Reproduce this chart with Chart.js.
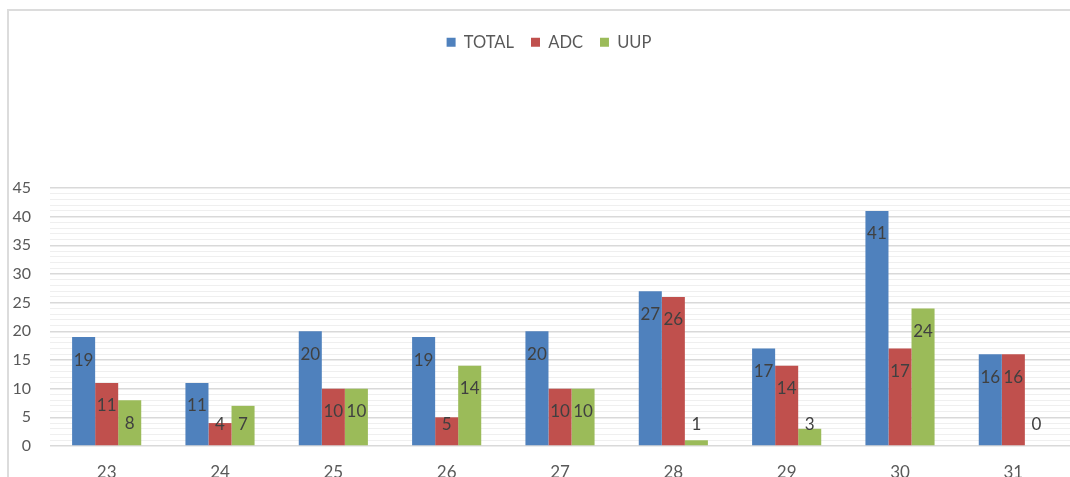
<!DOCTYPE html>
<html>
<head>
<meta charset="utf-8">
<script src="https://cdn.jsdelivr.net/npm/chart.js@4"></script>
<style>
  html, body { margin: 0; padding: 0; background: #fff; overflow: hidden; }
  #wrap { width: 1070px; height: 500px; }
</style>
</head>
<body>
<div id="wrap"><canvas id="c" width="1070" height="500"></canvas></div>
<script>
// ── data ─────────────────────────────────────────────
const days  = ['23', '24', '25', '26', '27', '28', '29', '30', '31'];
const total = [19, 11, 20, 19, 20, 27, 17, 41, 16];
const adc   = [11, 4, 10, 5, 10, 26, 14, 17, 16];
const uup   = [8, 7, 10, 14, 10, 1, 3, 24, 0];

const COL = { blue: '#4F81BD', red: '#C0504D', green: '#9BBB59', text: '#595959' };
const FONT = 'Lato, "Open Sans", sans-serif';

// frame lines round the chart (left + top only are visible)
const frame = {
  id: 'frame',
  beforeDraw(chart) {
    const { ctx } = chart;
    ctx.save();
    ctx.strokeStyle = '#dcdcdc';
    ctx.lineWidth = 2;
    ctx.beginPath();
    ctx.moveTo(8, 500);
    ctx.lineTo(8, 10);
    ctx.lineTo(1070, 10);
    ctx.stroke();
    ctx.restore();
  },
};

// value labels, inside end of each bar; small bars push label up
const valueLabels = {
  id: 'valueLabels',
  afterDatasetsDraw(chart) {
    const { ctx } = chart;
    ctx.save();
    ctx.font = '17px ' + FONT;
    ctx.fillStyle = '#404040';
    ctx.textAlign = 'center';
    ctx.textBaseline = 'middle';
    chart.data.datasets.forEach((ds, i) => {
      chart.getDatasetMeta(i).data.forEach((el, j) => {
        const y = Math.min(el.y + 23, el.base - 21);
        ctx.fillText(String(ds.data[j]), el.x, y);
      });
    });
    ctx.restore();
  },
};

// push the plot area down under the legend, nudge legend to the right
const legendGap = {
  id: 'legendGap',
  beforeInit(chart) {
    const fit = chart.legend.fit;
    chart.legend.fit = function () {
      fit.bind(chart.legend)();
      this.height = 171;
    };
  },
  afterLayout(chart) {
    chart.legend.left += 10;
    chart.legend.right += 10;
  },
};

new Chart(document.getElementById('c'), {
  type: 'bar',
  data: {
    labels: days,
    datasets: [
      { label: 'TOTAL', data: total, backgroundColor: COL.blue },
      { label: 'ADC',   data: adc,   backgroundColor: COL.red },
      { label: 'UUP',   data: uup,   backgroundColor: COL.green },
    ],
  },
  options: {
    responsive: false,
    animation: false,
    datasets: { bar: { categoryPercentage: 0.61, barPercentage: 1 } },
    layout: { padding: { top: 17, left: 8, right: 0, bottom: 0 } },
    scales: {
      x: {
        grid: { display: false, drawTicks: false },
        border: { display: false },
        ticks: { color: COL.text, font: { family: FONT, size: 17 }, padding: 16 },
        afterFit: s => { s.height = 54; },
      },
      y: {
        min: 0, max: 45,
        border: { display: false },
        grid: {
          drawTicks: false,
          color: c => (c.tick.value % 5 === 0 ? '#d9d9d9' : '#efefef'),
          lineWidth: c => (c.tick.value % 5 === 0 ? 1.5 : 1),
        },
        ticks: {
          stepSize: 1,
          autoSkip: false,
          padding: 19,
          color: COL.text,
          font: { family: FONT, size: 16 },
          callback: v => (v % 5 === 0 ? v : ''),
        },
        afterFit: s => { s.width = 42; },
      },
    },
    plugins: {
      tooltip: { enabled: false },
      legend: {
        position: 'top',
        labels: {
          boxWidth: 9, boxHeight: 9, padding: 17,
          color: COL.text,
          font: { family: FONT, size: 16.5 },
        },
      },
    },
  },
  plugins: [frame, valueLabels, legendGap],
});
</script>
</body>
</html>
